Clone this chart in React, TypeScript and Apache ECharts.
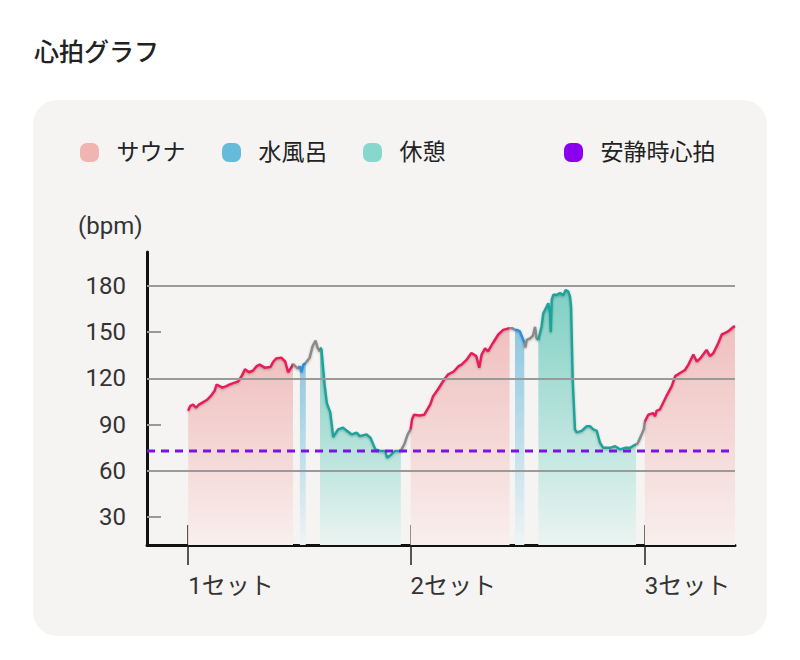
import React, { useEffect, useRef } from "react";
import * as echarts from "echarts";

// time in minutes, heart rate in bpm
const sauna1: [number, number][] = [
  [4.2, 99], [4.4, 102], [4.7, 103], [5.0, 101], [5.3, 103], [5.7, 104.5], [6.1, 106], [6.5, 108.5],
  [6.9, 112], [7.1, 116], [7.4, 115], [7.7, 114], [8.1, 115], [8.4, 116], [8.8, 117], [9.3, 118],
  [9.7, 122], [10.0, 126], [10.4, 124], [10.8, 125], [11.2, 128], [11.5, 129], [12.0, 127],
  [12.6, 127.5], [12.9, 131], [13.2, 133], [13.7, 133.5], [14.1, 131], [14.4, 124], [14.8, 128], [14.9, 129.5],
];
const gap1a: [number, number][] = [[14.9, 129.5], [15.2, 127.5], [15.4, 126.5], [15.6, 128]];
const cold1: [number, number][] = [[15.6, 128], [15.75, 124], [15.95, 129], [16.2, 130]];
const gap1b: [number, number][] = [
  [16.2, 130], [16.3, 131], [16.6, 133.5], [16.9, 141], [17.2, 144.5], [17.4, 140], [17.65, 137.5],
];
const rest1: [number, number][] = [
  [17.65, 140], [17.8, 139], [17.95, 128], [18.1, 117], [18.35, 104], [18.7, 98], [19.0, 82],
  [19.5, 87], [20.0, 88], [20.4, 86], [20.9, 83.7], [21.4, 84.8], [21.7, 82.6], [22.4, 83.7],
  [22.8, 81.6], [23.3, 74], [23.8, 73], [24.3, 73], [24.5, 68.6], [24.8, 70], [25.3, 73], [25.9, 73],
];
const gap1c: [number, number][] = [[25.9, 73], [26.3, 78], [26.6, 83.7], [26.9, 87]];
const sauna2: [number, number][] = [
  [26.9, 87], [27.05, 93.5], [27.25, 96.5], [27.8, 96], [28.3, 96.5], [28.9, 103], [29.2, 108.5],
  [29.7, 113], [30.2, 118], [30.7, 122.5], [31.3, 124.5], [31.8, 128], [32.1, 129], [32.6, 132],
  [33.1, 136.5], [33.6, 134.5], [33.9, 127], [34.15, 135.5], [34.5, 139.5], [34.8, 137.5],
  [35.3, 143], [35.85, 148.5], [36.35, 151.5], [36.9, 152.5], [37.0, 152.5],
];
const gap2a: [number, number][] = [[37.0, 152.5], [37.3, 152.5], [37.55, 151.5]];
const cold2: [number, number][] = [[37.55, 151.5], [37.75, 151.5], [38.05, 150.5], [38.4, 145], [38.5, 143]];
const gap2b: [number, number][] = [
  [38.5, 143], [38.6, 140], [38.75, 145], [39.1, 146], [39.4, 148], [39.6, 153.5], [39.75, 146], [39.93, 145],
];
const rest2: [number, number][] = [
  [39.93, 145], [40.27, 153.7], [40.44, 162.3], [40.79, 166.6], [40.95, 168.8], [41.12, 162.3],
  [41.2, 150], [41.3, 171], [41.46, 174.2], [41.81, 174.2], [42.14, 175.3], [42.48, 174],
  [42.72, 177.4], [42.99, 176.3], [43.16, 173], [43.27, 166.6], [43.44, 119], [43.67, 87],
  [43.85, 85], [44.36, 86], [44.87, 89], [45.2, 89], [45.54, 87], [45.89, 86], [46.22, 78.3],
  [46.56, 75], [47.24, 75], [47.76, 76], [48.27, 74], [48.78, 75], [49.29, 75], [49.8, 77], [49.9, 77],
];
const gap2c: [number, number][] = [[49.9, 77], [50.1, 78.3], [50.4, 82.6], [50.7, 87], [50.8, 92]];
const sauna3: [number, number][] = [
  [50.8, 92], [51.15, 96.5], [51.65, 97.5], [51.85, 95.5], [52.0, 99], [52.35, 100], [53.0, 108.5],
  [53.55, 115], [53.9, 121.5], [54.4, 123.5], [54.9, 125.5], [55.25, 129], [55.75, 135.5],
  [56.1, 131], [56.45, 133], [56.75, 135.5], [57.1, 138.5], [57.45, 134.5], [57.8, 136.5],
  [58.3, 143], [58.65, 148.5], [59.0, 149.5], [59.3, 150.5], [59.85, 153.5], [60, 154],
];

const restingHR = 73;
const setTicks = [4.2, 26.9, 50.8];
const setLabels = ["1セット", "2セット", "3セット"];
const yLabelValues = [30, 60, 90, 120, 150, 180];
const yMinorTicks = [30, 90, 150];
const gridValues = [60, 120, 180];

const FONT = 'Roboto, "Noto Sans CJK JP", sans-serif';
const ICON =
  "path://M7,0 H13 A7,7 0 0 1 20,7 V13 A7,7 0 0 1 13,20 H7 A7,7 0 0 1 0,13 V7 A7,7 0 0 1 7,0 Z";

const grad = (top: string, bottom: string) => ({
  type: "linear",
  x: 0,
  y: 0,
  x2: 0,
  y2: 1,
  colorStops: [
    { offset: 0, color: top },
    { offset: 1, color: bottom },
  ],
});

const SAUNA_LINE = "#e81d5a";
const COLD_LINE = "#2f8fdc";
const REST_LINE = "#1fa39c";
const GAP_LINE = "#8a8a8a";

export default function App() {
  const ref = useRef<HTMLDivElement>(null);
  useEffect(() => {
    if (!ref.current) return;
    const chart = echarts.init(ref.current, undefined, { renderer: "svg" });

    const seg = (name: string, data: [number, number][], line: string, fill?: [string, string]) => ({
      type: "line",
      name,
      data,
      symbol: "none",
      smooth: false,
      silent: true,
      lineStyle: {
        color: line,
        width: 2.5,
        shadowColor: "rgba(0,0,0,0.25)",
        shadowBlur: 2,
        shadowOffsetY: 1,
      },
      itemStyle: { color: line },
      areaStyle: fill ? { origin: "start", opacity: 1, color: grad(fill[0], fill[1]) } : undefined,
      emphasis: { disabled: true },
    });

    const saunaFill: [string, string] = ["#efc0bf", "#f8efed"];
    const coldFill: [string, string] = ["#8fc8df", "#eef4f5"];
    const restFill: [string, string] = ["#7fd0c4", "#ebf4f1"];

    const legendCommon = {
      top: 141,
      padding: 0,
      itemWidth: 20,
      itemHeight: 19,
      selectedMode: false,
      textStyle: { fontSize: 23, color: "#222", fontFamily: FONT, padding: [0, 0, 0, 12] },
    };

    chart.setOption({
      animation: false,
      backgroundColor: "#ffffff",
      textStyle: { fontFamily: FONT },
      graphic: [
        {
          type: "rect",
          shape: { x: 33, y: 100, width: 734, height: 536, r: 24 },
          style: { fill: "#f5f4f3" },
          z: -10,
          silent: true,
        },
        {
          type: "text",
          x: 34,
          y: 52,
          style: {
            text: "心拍グラフ",
            fontSize: 25,
            fontWeight: 500,
            fill: "#222",
            fontFamily: FONT,
            verticalAlign: "middle",
          },
        },
        {
          type: "text",
          x: 78,
          y: 226,
          style: {
            text: "(bpm)",
            fontSize: 24,
            fill: "#333",
            fontFamily: FONT,
            verticalAlign: "middle",
          },
        },
      ],
      legend: [
        { ...legendCommon, left: 80, data: [{ name: "サウナ", icon: ICON, itemStyle: { color: "#f0b5b1", borderWidth: 0 } }] },
        { ...legendCommon, left: 222, data: [{ name: "水風呂", icon: ICON, itemStyle: { color: "#66bbdb", borderWidth: 0 } }] },
        { ...legendCommon, left: 363, data: [{ name: "休憩", icon: ICON, itemStyle: { color: "#88d7cd", borderWidth: 0 } }] },
        { ...legendCommon, left: 564, data: [{ name: "安静時心拍", icon: ICON, itemStyle: { color: "#8a00ee", borderWidth: 0 } }] },
      ],
      grid: { left: 147, right: 65, top: 252, bottom: 115, outerBoundsMode: "none", containLabel: false },
      xAxis: [
        {
          type: "value",
          min: 0,
          max: 60,
          position: "bottom",
          axisLine: { show: true, lineStyle: { color: "#111", width: 3 } },
          axisTick: {
            show: true,
            customValues: setTicks,
            length: 20,
            lineStyle: { color: "#222", width: 1.5 },
          },
          axisLabel: {
            show: true,
            customValues: setTicks,
            formatter: (v: number) => {
              const i = setTicks.findIndex((t) => Math.abs(t - v) < 1e-6);
              return i >= 0 ? setLabels[i] : "";
            },
            align: "left",
            fontSize: 24,
            color: "#333",
            margin: 29,
            fontFamily: FONT,
          },
          splitLine: { show: false },
        },
        {
          type: "value",
          min: 0,
          max: 60,
          position: "bottom",
          axisLine: { show: false },
          axisTick: {
            show: true,
            inside: true,
            customValues: setTicks,
            length: 20,
            lineStyle: { color: "#222", width: 1.5 },
          },
          axisLabel: { show: false },
          splitLine: { show: false },
        },
      ],
      yAxis: {
        type: "value",
        min: 12,
        max: 202,
        axisLine: { show: true, lineStyle: { color: "#111", width: 3 } },
        axisTick: {
          show: true,
          inside: true,
          customValues: yMinorTicks,
          length: 14,
          lineStyle: { color: "#999", width: 2 },
        },
        axisLabel: {
          customValues: yLabelValues,
          fontSize: 24,
          color: "#333",
          margin: 21,
          fontFamily: FONT,
        },
        splitLine: { show: false },
      },
      series: [
        seg("サウナ", sauna1, SAUNA_LINE, saunaFill),
        seg("", gap1a, GAP_LINE),
        seg("水風呂", cold1, COLD_LINE, coldFill),
        seg("", gap1b, GAP_LINE),
        seg("休憩", rest1, REST_LINE, restFill),
        seg("", gap1c, GAP_LINE),
        seg("サウナ", sauna2, SAUNA_LINE, saunaFill),
        seg("", gap2a, GAP_LINE),
        seg("水風呂", cold2, COLD_LINE, coldFill),
        seg("", gap2b, GAP_LINE),
        seg("休憩", rest2, REST_LINE, restFill),
        seg("", gap2c, GAP_LINE),
        seg("サウナ", sauna3, SAUNA_LINE, saunaFill),
        {
          type: "line",
          name: "安静時心拍",
          data: [
            [0, restingHR],
            [60, restingHR],
          ],
          symbol: "none",
          silent: true,
          lineStyle: { color: "#7c12e6", width: 3, type: [8, 6] },
          itemStyle: { color: "#8a00ee" },
          emphasis: { disabled: true },
          markLine: {
            silent: true,
            symbol: ["none", "none"],
            label: { show: false },
            lineStyle: { color: "#9a9a9a", width: 2, type: "solid" },
            emphasis: { disabled: true },
            data: gridValues.map((v) => ({ yAxis: v })),
          },
        },
      ],
    });
    return () => chart.dispose();
  }, []);
  return (
    <div
      ref={ref}
      style={{ position: "absolute", left: 0, top: 0, width: 800, height: 660 }}
    />
  );
}
